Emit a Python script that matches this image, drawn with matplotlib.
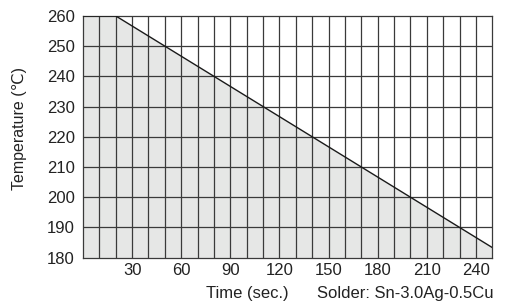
import matplotlib
matplotlib.use("Agg")
import matplotlib.pyplot as plt
import numpy as np

plt.rcParams['font.family'] = ['Liberation Sans', 'DejaVu Sans']

# profile: time (sec.) vs temperature
time_s = [0, 20, 250]
temp_c = [260, 260, 183.33]
x_ticks = [30, 60, 90, 120, 150, 180, 210, 240]
y_ticks = [180, 190, 200, 210, 220, 230, 240, 250, 260]

fig = plt.figure(figsize=(5.06, 3.06), dpi=100)
ax = fig.add_axes([0.164, 0.158, 0.809, 0.79])

ax.fill_between(time_s, temp_c, 180, color='#e6e7e6', zorder=1, linewidth=0)

# grid every 10 sec / 10 degrees
for gx in np.arange(10, 250, 10):
    ax.axvline(gx, color='#3a3a3a', lw=0.9, zorder=2)
for gy in np.arange(190, 260, 10):
    ax.axhline(gy, color='#3a3a3a', lw=0.9, zorder=2)

ax.plot(time_s, temp_c, color='#1a1a1a', lw=1.0, zorder=3)

ax.set_xlim(0, 250)
ax.set_ylim(180, 260)
ax.set_xticks(x_ticks)
ax.set_yticks(y_ticks)
ax.tick_params(length=0, labelsize=12, colors='#222222')
ax.tick_params(axis='x', pad=4)
ax.tick_params(axis='y', pad=6)
for s in ax.spines.values():
    s.set_color('#3a3a3a')
    s.set_linewidth(0.9)

ax.set_ylabel('Temperature (℃)', fontsize=11.5, color='#222222')
ax.yaxis.set_label_coords(-0.137, 0.535)
fig.text(0.488, 0.04, 'Time (sec.)', fontsize=12, ha='center', va='center', color='#222222')
fig.text(0.975, 0.04, 'Solder: Sn-3.0Ag-0.5Cu', fontsize=12, ha='right', va='center', color='#222222')

fig.savefig('out.png', dpi=100)
